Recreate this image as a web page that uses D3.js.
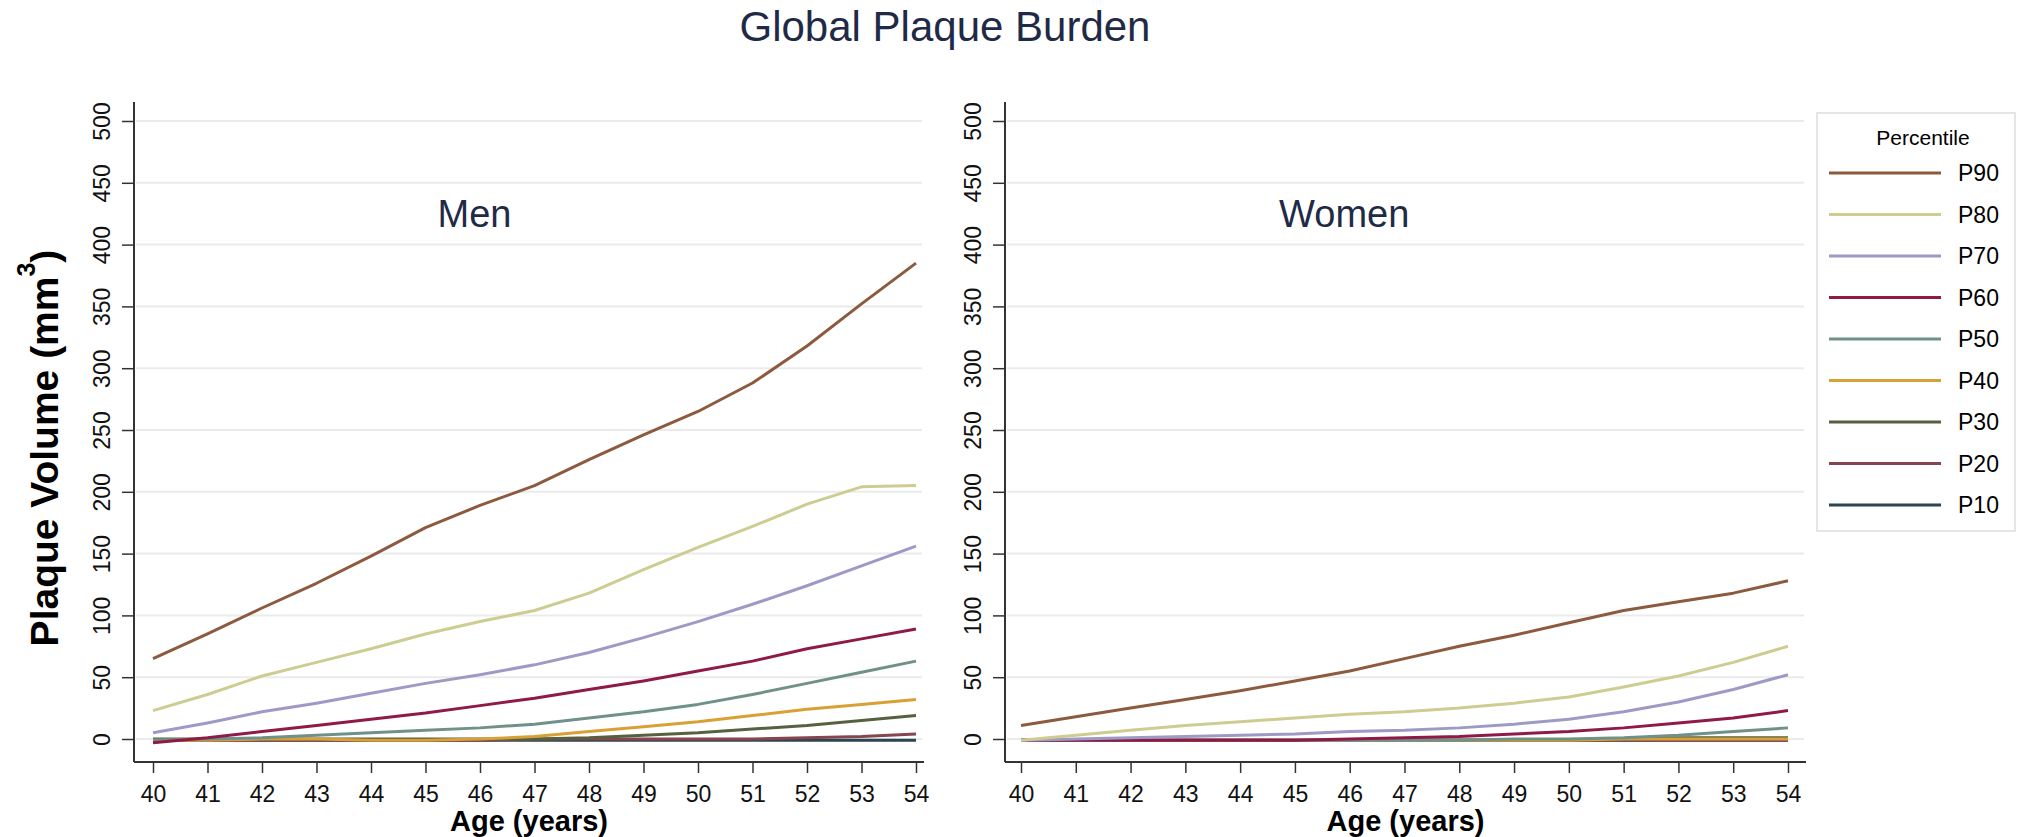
<!DOCTYPE html>
<html>
<head>
<meta charset="utf-8">
<script src="https://cdn.jsdelivr.net/npm/d3@7"></script>
<style>
  body { margin: 0; background: #fff; }
  text { font-family: "Liberation Sans", Arial, sans-serif; }
</style>
</head>
<body>
<div id="chart"></div>
<script>
const W = 2022, H = 837;

const ages = [40, 41, 42, 43, 44, 45, 46, 47, 48, 49, 50, 51, 52, 53, 54];
const yTicks = [0, 50, 100, 150, 200, 250, 300, 350, 400, 450, 500];
const percentiles = ["P90", "P80", "P70", "P60", "P50", "P40", "P30", "P20", "P10"];
const lineColors = ["#8c5a3e", "#cfcc92", "#9d9ac6", "#8f1a48", "#6f918a", "#d9a035", "#56623f", "#86454f", "#2b4552"];

// Men, values read per age 40..54
const menP90 = [65, 85, 106, 126, 148, 171, 189, 205, 226, 246, 265, 288, 318, 352, 385];
const menP80 = [23, 36, 51, 62, 73, 85, 95, 104, 118, 137, 155, 172, 190, 204, 205];
const menP70 = [5, 13, 22, 29, 37, 45, 52, 60, 70, 82, 95, 109, 124, 140, 156];
const menP60 = [-3, 1, 6, 11, 16, 21, 27, 33, 40, 47, 55, 63, 73, 81, 89];
const menP50 = [-1, 0, 1, 3, 5, 7, 9, 12, 17, 22, 28, 36, 45, 54, 63];
const menP40 = [-1, -1, 0, 0, -1, -1, 0, 2, 6, 10, 14, 19, 24, 28, 32];
const menP30 = [0, 0, 0, 0, 0, 0, 0, 0, 1, 3, 5, 8, 11, 15, 19];
const menP20 = [-1, -1, -1, -1, -1, -1, -1, 0, 0, 0, 0, 0, 1, 2, 4];
const menP10 = [-1, -1, -1, -1, -1, -1, -1, -1, -1, -1, -1, -1, -1, -1, -1];

// Women
const womenP90 = [11, 18, 25, 32, 39, 47, 55, 65, 75, 84, 94, 104, 111, 118, 128];
const womenP80 = [-1, 3, 7, 11, 14, 17, 20, 22, 25, 29, 34, 42, 51, 62, 75];
const womenP70 = [-1, 0, 1, 2, 3, 4, 6, 7, 9, 12, 16, 22, 30, 40, 52];
const womenP60 = [-1, -1, -1, -1, -1, -1, 0, 1, 2, 4, 6, 9, 13, 17, 23];
const womenP50 = [-1, -1, -1, -1, -1, -1, -1, -1, -1, 0, 0, 1, 3, 6, 9];
const womenP40 = [-1, -1, -1, -1, -1, -1, -1, -1, -1, -1, -1, 0, 0, 0, 0];
const womenP30 = [-1, -1, -1, -1, -1, -1, -1, -1, -1, -1, -1, 0, 1, 1, 1];
const womenP20 = [-1, -1, -1, -1, -1, -1, -1, -1, -1, -1, -1, -1, -1, -1, -1];
const womenP10 = [-1, -1, -1, -1, -1, -1, -1, -1, -1, -1, -1, -1, -1, -1, -1];

const menSeries = [menP90, menP80, menP70, menP60, menP50, menP40, menP30, menP20, menP10];
const womenSeries = [womenP90, womenP80, womenP70, womenP60, womenP50, womenP40, womenP30, womenP20, womenP10];

const svg = d3.select("#chart").append("svg")
    .attr("width", W)
    .attr("height", H);

const navy = "#1f2b46";

svg.append("text")
    .attr("x", 945).attr("y", 41)
    .attr("text-anchor", "middle")
    .attr("font-size", 42)
    .attr("fill", navy)
    .text("Global Plaque Burden");

// y title
let yt = svg.append("text")
    .attr("transform", "translate(44,448) rotate(-90)")
    .attr("dy", "0.35em")
    .attr("text-anchor", "middle")
    .attr("font-size", 39)
    .attr("font-weight", "bold")
    .attr("fill", "#000");
yt.append("tspan").text("Plaque Volume (mm");
yt.append("tspan").attr("font-size", 25).attr("dy", "-0.9em").text("3");
yt.append("tspan").attr("dy", "0.58em").text(")");

const y = d3.scaleLinear().domain([0, 500]).range([739, 121]);
const axisTop = 102, axisBottom = 762;

const panels = [
    {name: "Men", left: 134, right: 924, x0: 153, x1: 916, series: menSeries},
    {name: "Women", left: 1005, right: 1806, x0: 1021, x1: 1788, series: womenSeries}
];

panels.forEach(p => {
    const x = d3.scaleLinear().domain([40, 54]).range([p.x0, p.x1]);
    const g = svg.append("g");

    // grid
    g.selectAll(".grid").data(yTicks).enter()
        .append("line")
        .attr("x1", p.left + 2).attr("x2", p.right - 2)
        .attr("y1", d => y(d)).attr("y2", d => y(d))
        .attr("stroke", "#ebebeb")
        .attr("stroke-width", 2);

    // y axis
    const ya = g.append("g")
        .attr("transform", `translate(${p.left},0)`)
        .call(d3.axisLeft(y).tickValues(yTicks).tickSize(12));
    ya.select(".domain").remove();
    ya.selectAll("line").attr("stroke", "#333").attr("stroke-width", 1.5);
    ya.selectAll("text")
        .attr("x", null).attr("dy", "0.35em")
        .attr("transform", "translate(-32,0) rotate(-90)")
        .attr("text-anchor", "middle")
        .attr("font-size", 23)
        .attr("font-family", "'Liberation Sans', Arial, sans-serif")
        .attr("fill", "#111");
    g.append("line")
        .attr("x1", p.left).attr("x2", p.left)
        .attr("y1", axisTop).attr("y2", axisBottom)
        .attr("stroke", "#333").attr("stroke-width", 2);

    // x axis
    const xa = g.append("g")
        .attr("transform", `translate(0,${axisBottom})`)
        .call(d3.axisBottom(x).tickValues(ages).tickSize(11));
    xa.select(".domain").remove();
    xa.selectAll("line").attr("stroke", "#333").attr("stroke-width", 1.5);
    xa.selectAll("text")
        .attr("y", 32).attr("dy", "0.35em")
        .attr("font-size", 23)
        .attr("font-family", "'Liberation Sans', Arial, sans-serif")
        .attr("fill", "#111");
    g.append("line")
        .attr("x1", p.left).attr("x2", p.right)
        .attr("y1", axisBottom).attr("y2", axisBottom)
        .attr("stroke", "#333").attr("stroke-width", 2);

    g.append("text")
        .attr("x", (p.left + p.right) / 2).attr("y", 831)
        .attr("text-anchor", "middle")
        .attr("font-size", 29)
        .attr("font-weight", "bold")
        .text("Age (years)");

    g.append("text")
        .attr("x", x(45.9)).attr("y", 227)
        .attr("text-anchor", "middle")
        .attr("font-size", 38)
        .attr("fill", navy)
        .text(p.name);

    const line = d3.line()
        .x((d, i) => x(ages[i]))
        .y(d => y(d));

    // P10 drawn first, P90 last
    const order = d3.range(percentiles.length).reverse();
    g.selectAll(".series").data(order).enter()
        .append("path")
        .attr("d", i => line(p.series[i]))
        .attr("fill", "none")
        .attr("stroke", i => lineColors[i])
        .attr("stroke-width", 3)
        .attr("stroke-linejoin", "round");
});

// legend
const lg = svg.append("g");
lg.append("rect")
    .attr("x", 1817).attr("y", 113)
    .attr("width", 198).attr("height", 418)
    .attr("fill", "#fff")
    .attr("stroke", "#dddddd").attr("stroke-width", 1.5);
lg.append("text")
    .attr("x", 1923).attr("y", 138).attr("dy", "0.35em")
    .attr("text-anchor", "middle")
    .attr("font-size", 21)
    .text("Percentile");
const items = lg.selectAll(".item").data(percentiles).enter()
    .append("g")
    .attr("transform", (d, i) => `translate(0,${173 + i * 41.5})`);
items.append("line")
    .attr("x1", 1829).attr("x2", 1941)
    .attr("stroke", (d, i) => lineColors[i])
    .attr("stroke-width", 3);
items.append("text")
    .attr("x", 1958).attr("dy", "0.35em")
    .attr("font-size", 23)
    .text(d => d);
</script>
</body>
</html>
